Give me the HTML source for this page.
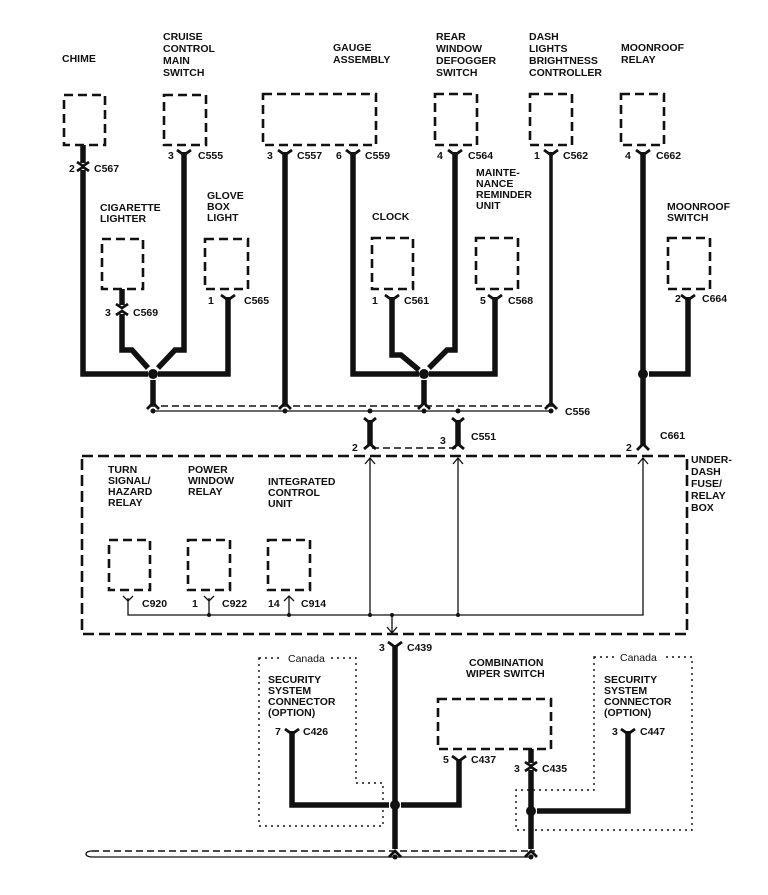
<!DOCTYPE html>
<html><head><meta charset="utf-8"><style>
html,body{margin:0;padding:0;background:#fff}
svg{display:block}
text{font-family:"Liberation Sans",sans-serif;font-weight:bold;font-size:10.5px;fill:#111}
.b{fill:none;stroke:#111;stroke-width:2.6;stroke-dasharray:9,5}
.w{fill:none;stroke:#111;stroke-width:5.5;stroke-linejoin:miter}
.t{fill:none;stroke:#111;stroke-width:1.3}
.d{fill:none;stroke:#111;stroke-width:1.6;stroke-dasharray:7,4}
.o{fill:none;stroke:#111;stroke-width:1.4;stroke-dasharray:2,4}
.y{fill:none;stroke:#111;stroke-width:2.8}
</style></head><body>
<svg width="768" height="895" viewBox="0 0 768 895" xmlns="http://www.w3.org/2000/svg">
<text x="62" y="62">CHIME</text>
<text x="163" y="40">CRUISE</text><text x="163" y="52">CONTROL</text><text x="163" y="64">MAIN</text><text x="163" y="76">SWITCH</text>
<text x="333" y="51">GAUGE</text><text x="333" y="63">ASSEMBLY</text>
<text x="436" y="40">REAR</text><text x="436" y="52">WINDOW</text><text x="436" y="64">DEFOGGER</text><text x="436" y="76">SWITCH</text>
<text x="529" y="40">DASH</text><text x="529" y="52">LIGHTS</text><text x="529" y="64">BRIGHTNESS</text><text x="529" y="76">CONTROLLER</text>
<text x="621" y="51">MOONROOF</text><text x="621" y="63">RELAY</text>
<rect class="b" x="64" y="95" width="41" height="50"/>
<rect class="b" x="164" y="95" width="42" height="50"/>
<rect class="b" x="263" y="94" width="113" height="51"/>
<rect class="b" x="435" y="94" width="42" height="51"/>
<rect class="b" x="530" y="94" width="42" height="51"/>
<rect class="b" x="621" y="94" width="43" height="51"/>
<rect class="b" x="102" y="239" width="41" height="50"/>
<rect class="b" x="205" y="239" width="43" height="50"/>
<rect class="b" x="372" y="238" width="41" height="51"/>
<rect class="b" x="476" y="238" width="42" height="51"/>
<rect class="b" x="668" y="238" width="42" height="51"/>
<text x="100" y="211">CIGARETTE</text><text x="100" y="222">LIGHTER</text>
<text x="207" y="199">GLOVE</text><text x="207" y="210">BOX</text><text x="207" y="221">LIGHT</text>
<text x="372" y="220">CLOCK</text>
<text x="476" y="176">MAINTE-</text><text x="476" y="187">NANCE</text><text x="476" y="198">REMINDER</text><text x="476" y="209">UNIT</text>
<text x="667" y="210">MOONROOF</text><text x="667" y="221">SWITCH</text>
<path class="w" d="M83 145 V163 M83 170 V374 H148"/>
<path class="y" d="M77 162 L83 166 L89 162 M77 171 L83 167 L89 171"/>
<text x="69" y="172">2</text><text x="94" y="172">C567</text>
<path class="w" d="M184 152 V350 H175 L158 368"/>
<path class="y" d="M177 150 L184 155 L191 150"/>
<text x="168" y="159">3</text><text x="198" y="159">C555</text>
<path class="w" d="M122 289 V305 M122 314 V350 H132 L148 368"/>
<path class="y" d="M116 304 L122 308 L128 304 M116 315 L122 311 L128 315"/>
<text x="105" y="316">3</text><text x="133" y="316">C569</text>
<path class="w" d="M228 297 V374 H158"/>
<path class="y" d="M221 295 L228 300 L235 295"/>
<text x="208" y="304">1</text><text x="244" y="304">C565</text>
<circle cx="153" cy="374" r="5" fill="#111"/>
<path class="w" d="M153 380 V404"/>
<path class="y" d="M147 409 L153 403 L159 409"/>
<path class="w" d="M285 152 V404"/>
<path class="y" d="M278 150 L285 155 L292 150 M279 409 L285 403 L291 409"/>
<text x="267" y="159">3</text><text x="297" y="159">C557</text>
<path class="w" d="M353 152 V374 H419"/>
<path class="y" d="M346 150 L353 155 L360 150"/>
<text x="336" y="159">6</text><text x="365" y="159">C559</text>
<path class="w" d="M392 297 V355 H401 L419 370"/>
<path class="y" d="M385 295 L392 300 L399 295"/>
<text x="372" y="304">1</text><text x="404" y="304">C561</text>
<path class="w" d="M495 297 V374 H429"/>
<path class="y" d="M488 295 L495 300 L502 295"/>
<text x="480" y="304">5</text><text x="508" y="304">C568</text>
<path class="w" d="M455 152 V350 H447 L429 368"/>
<path class="y" d="M448 150 L455 155 L462 150"/>
<text x="437" y="159">4</text><text x="468" y="159">C564</text>
<circle cx="424" cy="374" r="5" fill="#111"/>
<path class="w" d="M424 380 V404"/>
<path class="y" d="M418 409 L424 403 L430 409"/>
<path class="w" d="M551 152 V404" style="stroke-width:3.5"/>
<path class="y" d="M544 150 L551 155 L558 150 M545 409 L551 403 L557 409"/>
<text x="534" y="159">1</text><text x="563" y="159">C562</text>
<path class="d" d="M150 406 H553"/>
<path class="t" d="M153 411 H551"/>
<g fill="#111"><circle cx="153" cy="411" r="2.5"/><circle cx="285" cy="411" r="2.5"/><circle cx="370" cy="411" r="2.5"/><circle cx="424" cy="411" r="2.5"/><circle cx="458" cy="411" r="2.5"/><circle cx="551" cy="411" r="2.5"/></g>
<text x="565" y="415">C556</text>
<path class="w" d="M370 420 V446 M458 420 V446"/>
<path class="y" d="M364 418 L370 423 L376 418 M364 449 L370 444 L376 449 M452 418 L458 423 L464 418 M452 449 L458 444 L464 449"/>
<path class="d" d="M372 448 H456"/>
<text x="352" y="451">2</text><text x="440" y="444">3</text><text x="471" y="440">C551</text>
<path class="w" d="M643 152 V445"/>
<path class="y" d="M636 150 L643 155 L650 150 M637 450 L643 444 L649 450"/>
<text x="625" y="159">4</text><text x="656" y="159">C662</text>
<circle cx="643" cy="374" r="5" fill="#111"/>
<path class="w" d="M649 374 H688 V297"/>
<path class="y" d="M681 295 L688 300 L695 295"/>
<text x="675" y="302">2</text><text x="702" y="302">C664</text>
<text x="660" y="439">C661</text><text x="626" y="451">2</text>
<rect class="b" x="82" y="456" width="605" height="178" style="stroke-dasharray:11,5"/>
<text x="691" y="463">UNDER-</text><text x="691" y="475">DASH</text><text x="691" y="487">FUSE/</text><text x="691" y="499">RELAY</text><text x="691" y="511">BOX</text>
<text x="108" y="473">TURN</text><text x="108" y="484">SIGNAL/</text><text x="108" y="495">HAZARD</text><text x="108" y="506">RELAY</text>
<text x="188" y="473">POWER</text><text x="188" y="484">WINDOW</text><text x="188" y="495">RELAY</text>
<text x="268" y="485">INTEGRATED</text><text x="268" y="496">CONTROL</text><text x="268" y="507">UNIT</text>
<rect class="b" x="109" y="540" width="41" height="50"/>
<rect class="b" x="188" y="540" width="42" height="50"/>
<rect class="b" x="268" y="540" width="42" height="50"/>
<path class="t" d="M128 598 V615 H643 V458 M370 615 V458 M458 615 V458 M209 598 V615 M289 596 V615 M392 615 V632"/>
<path class="t" d="M123 596 L128 601 L133 596 M204 596 L209 601 L214 596 M284 601 L289 596 L294 601 M365 464 L370 458 L375 464 M453 464 L458 458 L463 464 M638 464 L643 458 L648 464 M387 627 L392 633 L397 627"/>
<g fill="#111"><circle cx="209" cy="615" r="2"/><circle cx="289" cy="615" r="2"/><circle cx="370" cy="615" r="2"/><circle cx="392" cy="615" r="2"/><circle cx="458" cy="615" r="2"/></g>
<text x="142" y="607">C920</text><text x="192" y="607">1</text><text x="222" y="607">C922</text><text x="268" y="607">14</text><text x="301" y="607">C914</text>
<path class="w" d="M395 645 V849"/>
<path class="y" d="M388 642 L395 647 L402 642 M389 857 L395 851 L401 857"/>
<text x="379" y="651">3</text><text x="407" y="651">C439</text>
<path class="o" d="M259 658 H356 V783 H383 V826 H259 Z"/>
<rect x="283" y="652" width="46" height="12" fill="#fff"/>
<text x="288" y="662" style="font-weight:normal">Canada</text>
<text x="268" y="683">SECURITY</text><text x="268" y="694">SYSTEM</text><text x="268" y="705">CONNECTOR</text><text x="268" y="716">(OPTION)</text>
<path class="w" d="M292 731 V805 H389"/>
<path class="y" d="M285 729 L292 734 L299 729"/>
<text x="275" y="735">7</text><text x="303" y="735">C426</text>
<circle cx="395" cy="805" r="5" fill="#111"/>
<path class="w" d="M401 805 H459 V759"/>
<path class="y" d="M452 756 L459 761 L466 756"/>
<text x="443" y="763">5</text><text x="471" y="763">C437</text>
<text x="469" y="666">COMBINATION</text><text x="466" y="677">WIPER SWITCH</text>
<rect class="b" x="438" y="699" width="113" height="50"/>
<path class="o" d="M594 657 H692 V830 H516 V790 H594 Z"/>
<rect x="617" y="651" width="46" height="12" fill="#fff"/>
<text x="620" y="661" style="font-weight:normal">Canada</text>
<text x="604" y="683">SECURITY</text><text x="604" y="694">SYSTEM</text><text x="604" y="705">CONNECTOR</text><text x="604" y="716">(OPTION)</text>
<path class="w" d="M531 749 V763 M531 770 V849"/>
<path class="y" d="M525 762 L531 766 L537 762 M525 771 L531 767 L537 771 M525 857 L531 851 L537 857"/>
<text x="514" y="772">3</text><text x="542" y="772">C435</text>
<circle cx="531" cy="811" r="5" fill="#111"/>
<path class="w" d="M537 811 H628 V731"/>
<path class="y" d="M621 729 L628 734 L635 729"/>
<text x="612" y="735">3</text><text x="640" y="735">C447</text>
<path class="d" d="M92 851 H535"/>
<path class="t" d="M92 857 H531"/>
<path class="t" d="M92 851 C84 851 84 857 92 857"/>
<g fill="#111"><circle cx="395" cy="857" r="2.5"/><circle cx="531" cy="857" r="2.5"/></g>
</svg>
</body></html>
